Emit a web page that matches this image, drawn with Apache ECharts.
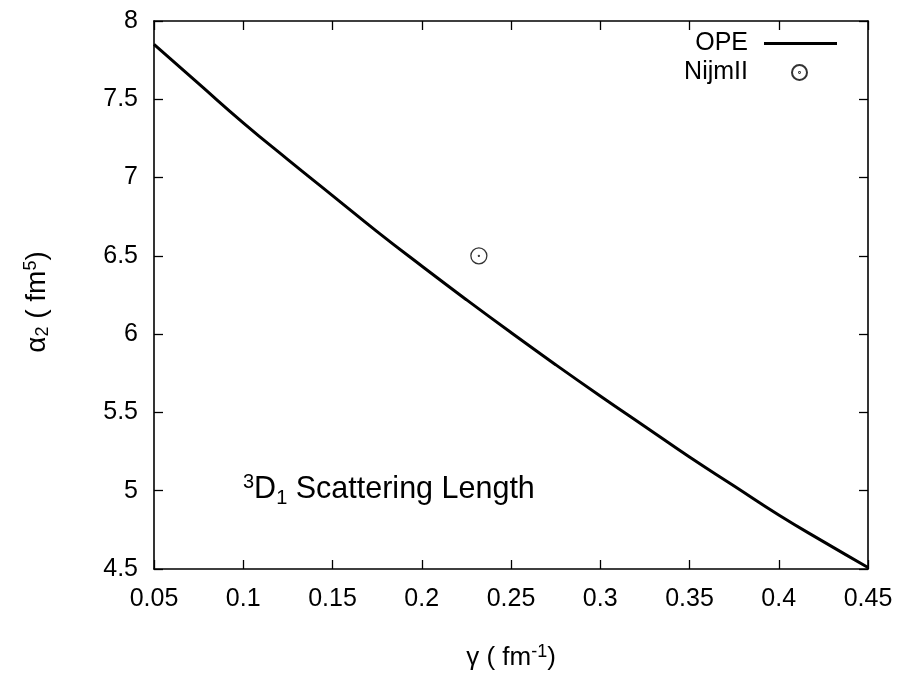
<!DOCTYPE html>
<html>
<head>
<meta charset="utf-8">
<title>3D1 Scattering Length</title>
<script src="https://cdn.jsdelivr.net/npm/echarts@6/dist/echarts.min.js"></script>
<style>
  html, body { margin: 0; padding: 0; background: #fff; }
  #chart { width: 903px; height: 676px; }
</style>
</head>
<body>
<div id="chart"></div>
<script>
// OPE curve: alpha_2 (fm^5) versus gamma (fm^-1)
const gammaValues = [0.05, 0.075, 0.1, 0.125, 0.15, 0.175, 0.2, 0.225, 0.25,
                     0.275, 0.3, 0.325, 0.35, 0.375, 0.4, 0.425, 0.45];
const opeAlpha2 = [7.85, 7.60, 7.35, 7.115, 6.885, 6.655, 6.435, 6.22, 6.01,
                   5.805, 5.605, 5.41, 5.215, 5.03, 4.845, 4.675, 4.51];

// NijmII point
const nijmGamma = [0.232];
const nijmAlpha2 = [6.5];

// Axis ranges and tick steps
const xRange = { min: 0.05, max: 0.45, step: 0.05 };
const yRange = { min: 4.5, max: 8, step: 0.5 };

const FONT = "'Liberation Sans', Arial, Helvetica, sans-serif";
const FS = 25;

const richStyles = {
  sup: { fontSize: 18, fontFamily: FONT, color: '#000', verticalAlign: 'top', lineHeight: 14 },
  sub: { fontSize: 18, fontFamily: FONT, color: '#000', verticalAlign: 'bottom', lineHeight: 14 }
};

const opePoints = gammaValues.map((g, i) => [g, opeAlpha2[i]]);
const nijmPoints = nijmGamma.map((g, i) => [g, nijmAlpha2[i]]);

// ring with a centre dot
const ringDot = 'path://M10,0 A10,10 0 1,1 10,20 A10,10 0 1,1 10,0 Z M10,9.4 A0.6,0.6 0 1,1 10,10.6 A0.6,0.6 0 1,1 10,9.4 Z';

const frameLine = { show: true, lineStyle: { color: '#000', width: 1.6 } };
const innerTicks = { show: true, inside: true, length: 9, lineStyle: { color: '#000', width: 1.3 } };

const fmt = v => String(+v.toFixed(2));

const chart = echarts.init(document.getElementById('chart'), null, { renderer: 'canvas' });

chart.setOption({
  animation: false,
  backgroundColor: '#fff',
  textStyle: { fontFamily: FONT },
  grid: { left: 154, right: 35, top: 21, bottom: 107, containLabel: false, outerBoundsMode: 'none' },
  xAxis: [
    {
      type: 'value', position: 'bottom',
      min: xRange.min, max: xRange.max, interval: xRange.step,
      axisLine: frameLine, axisTick: innerTicks, splitLine: { show: false },
      axisLabel: { fontSize: FS, color: '#000', fontFamily: FONT, margin: 18, formatter: fmt },
      name: 'γ ( fm{sup|-1})',
      nameLocation: 'middle', nameGap: 74,
      nameTextStyle: { fontSize: 26, color: '#000', fontFamily: FONT, lineHeight: 30, rich: richStyles }
    },
    {
      type: 'value', position: 'top',
      min: xRange.min, max: xRange.max, interval: xRange.step,
      axisLine: frameLine, axisTick: innerTicks, splitLine: { show: false },
      axisLabel: { show: false }
    }
  ],
  yAxis: [
    {
      type: 'value', position: 'left',
      min: yRange.min, max: yRange.max, interval: yRange.step,
      axisLine: frameLine, axisTick: innerTicks, splitLine: { show: false },
      axisLabel: { fontSize: FS, color: '#000', fontFamily: FONT, margin: 16, formatter: fmt },
      name: 'α{sub|2} ( fm{sup|5})',
      nameLocation: 'middle', nameGap: 102, nameRotate: 90,
      nameTextStyle: { fontSize: 28, color: '#000', fontFamily: FONT, lineHeight: 30,
                       padding: [0, 14, 0, 0], rich: richStyles }
    },
    {
      type: 'value', position: 'right',
      min: yRange.min, max: yRange.max, interval: yRange.step,
      axisLine: frameLine, axisTick: innerTicks, splitLine: { show: false },
      axisLabel: { show: false }
    }
  ],
  legend: [
    {
      data: [{ name: 'OPE', icon: 'rect' }], right: 66, top: 31, orient: 'vertical', align: 'right',
      itemWidth: 73, itemHeight: 3, padding: 0,
      textStyle: { fontSize: FS, color: '#000', fontFamily: FONT, padding: [0, 11, 0, 0] }
    },
    {
      data: ['NijmII'], right: 95, top: 60, orient: 'vertical', align: 'right',
      itemWidth: 15, itemHeight: 15, padding: 0,
      textStyle: { fontSize: FS, color: '#000', fontFamily: FONT, padding: [0, 39, 0, 0] }
    }
  ],
  graphic: [
    {
      type: 'text', left: 243, top: 472,
      style: {
        text: '{sup|3}D{sub|1} Scattering Length',
        fontSize: 30.5, fontFamily: FONT, fill: '#000', lineHeight: 36,
        rich: {
          sup: { fontSize: 20, fontFamily: FONT, fill: '#000', verticalAlign: 'top', lineHeight: 16 },
          sub: { fontSize: 20, fontFamily: FONT, fill: '#000', verticalAlign: 'bottom', lineHeight: 16 }
        }
      }
    }
  ],
  series: [
    {
      name: 'OPE', type: 'line', xAxisIndex: 0, yAxisIndex: 0,
      data: opePoints, smooth: true, symbol: 'none',
      lineStyle: { color: '#000', width: 3 },
      itemStyle: { color: '#000' }
    },
    {
      name: 'NijmII', type: 'scatter', xAxisIndex: 0, yAxisIndex: 0,
      data: nijmPoints, symbol: ringDot, symbolSize: 16, symbolKeepAspect: true,
      itemStyle: { color: 'transparent', borderColor: '#000', borderWidth: 1.3 }
    }
  ]
});
</script>
</body>
</html>
